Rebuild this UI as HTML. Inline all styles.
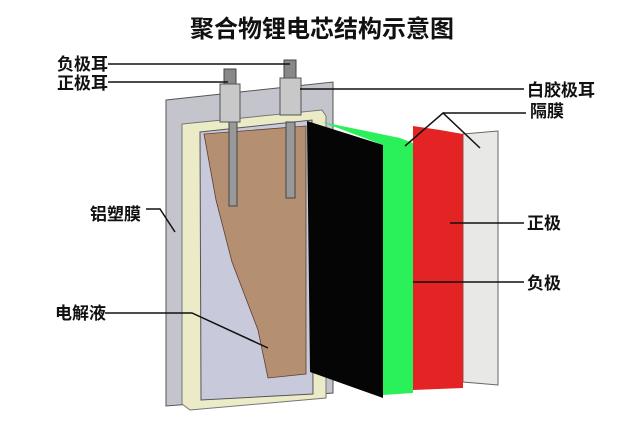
<!DOCTYPE html>
<html><head><meta charset="utf-8"><style>
html,body{margin:0;padding:0;background:#fff;}
svg text{font-family:"Liberation Sans","Noto Sans CJK SC",sans-serif;font-weight:bold;fill:#111;}
</style></head><body>
<svg width="640" height="421" viewBox="0 0 640 421" xmlns="http://www.w3.org/2000/svg">
<text x="322" y="37" font-size="24" text-anchor="middle">聚合物锂电芯结构示意图</text>
<!-- pouch -->
<polygon points="166,100 333,82 333,393 166,406" fill="#c4c4cc" stroke="#555" stroke-width="1"/>
<!-- frame -->
<polygon points="182,124 322,110 326,116 326,398 190,410 182,404" fill="#ecebc8" stroke="#777" stroke-width="1"/>
<polygon points="200,132 312,120 313,394 201,400" fill="#c9c9dc" stroke="#555" stroke-width="1"/>
<polygon points="204,134 306,126 306,374 268,378 258,330 232,262 216,200" fill="#b58f72" stroke="#5a4030" stroke-width="0.8"/>
<!-- tabs -->
<rect x="229" y="122" width="8" height="84" fill="#999" stroke="#444"/>
<rect x="286" y="122" width="9" height="76" fill="#999" stroke="#444"/>
<rect x="224" y="69" width="12" height="16" fill="#888" stroke="#444"/>
<rect x="220" y="84" width="20" height="38" fill="#c8c8c8" stroke="#555"/>
<rect x="284" y="60" width="12" height="19" fill="#888" stroke="#444"/>
<rect x="280" y="78" width="21" height="37" fill="#c8c8c8" stroke="#555"/>
<!-- sheets -->
<polygon points="463,134 498,131 498,385 463,382" fill="#e8e8e6" stroke="#666"/>
<polygon points="413,126 440,130 463,134 463,388 413,390" fill="#e42424"/>
<polygon points="322,122 400,138 413,143 413,393 383,395 383,145" fill="#2af05a"/>
<polygon points="307,121 383,145 383,398 310,372" fill="#050505"/>
<!-- leader lines -->
<g stroke="#111" stroke-width="1.5" fill="none">
<line x1="108" y1="64" x2="290" y2="64"/>
<line x1="108" y1="82" x2="228" y2="82"/>
<line x1="300" y1="89" x2="524" y2="89"/>
<polyline points="405,146 443,113 480,148"/>
<line x1="443" y1="113" x2="526" y2="113"/>
<polyline points="146,209 160,209 175,232"/>
<polyline points="105,313 192,313 268,348"/>
<line x1="450" y1="223" x2="524" y2="223"/>
<line x1="413" y1="282" x2="524" y2="282"/>
</g>
<g style="font-weight:900">
<text x="57" y="70" font-size="17">负极耳</text>
<text x="57" y="89" font-size="17">正极耳</text>
<text x="527" y="96" font-size="17">白胶极耳</text>
<text x="530" y="117" font-size="17">隔膜</text>
<text x="90" y="220" font-size="17">铝塑膜</text>
<text x="55" y="319" font-size="17">电解液</text>
<text x="527" y="229" font-size="17">正极</text>
<text x="527" y="289" font-size="17">负极</text>
</g>
</svg>
</body></html>
